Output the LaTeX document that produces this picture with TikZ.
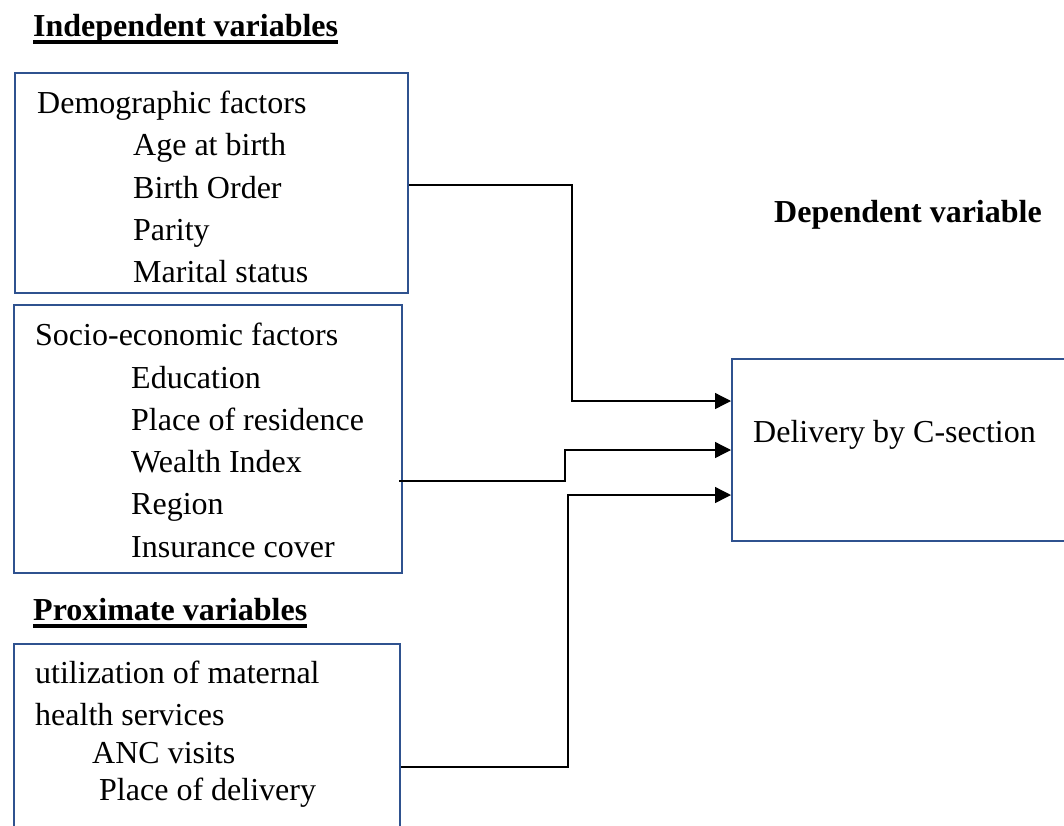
\documentclass[tikz,border=0pt]{standalone}
\usepackage{fontspec}
\setmainfont{Liberation Serif}
\usetikzlibrary{arrows.meta}
\definecolor{boxblue}{RGB}{47,82,143}
\begin{document}
\begin{tikzpicture}[x=1pt,y=-1pt,
  box/.style={draw=boxblue,line width=2pt,inner sep=0pt},
  txt/.style={anchor=base west,inner sep=0pt,font=\fontsize{32}{38}\selectfont},
  hdr/.style={anchor=base west,inner sep=0pt,font=\fontsize{32}{38}\selectfont\bfseries},
  conn/.style={draw=black,line width=1.3pt,-{Triangle[length=16pt,width=16pt]}},
  uline/.style={line width=3.2pt}]
\useasboundingbox (0,0) rectangle (1064,825);
\clip (0,0) rectangle (1064,825);

% boxes
\node[box,minimum width=393pt,minimum height=220pt] (demo) at (211.5,183) {};
\node[box,minimum width=388pt,minimum height=268pt] (socio) at (208,439) {};
\node[box,minimum width=386pt,minimum height=220pt] (prox) at (207,754) {};
\node[box,minimum width=368pt,minimum height=182pt] (dep) at (916,450) {};

% headers
\node[hdr] (ind) at (33,36) {Independent variables};
\draw[uline] ([yshift=-6pt]ind.base west) -- ([yshift=-6pt]ind.base east);
\node[hdr] (dv) at (774,222) {Dependent variable};
\node[hdr] (pv) at (33,620) {Proximate variables};
\draw[uline] ([yshift=-6pt]pv.base west) -- ([yshift=-6pt]pv.base east);

% demographic
\node[txt] (d0) at (37,113) {Demographic factors};
\node[txt] (d1) at (133,155) {Age at birth};
\node[txt] (d2) at (133,198) {Birth Order};
\node[txt] (d3) at (133,240) {Parity};
\node[txt] (d4) at (133,282) {Marital status};

% socio-economic
\node[txt] (s0) at (35,345) {Socio-economic factors};
\node[txt] (s1) at (131,388) {Education};
\node[txt] (s2) at (131,430) {Place of residence};
\node[txt] (s3) at (131,472) {Wealth Index};
\node[txt] (s4) at (131,514) {Region};
\node[txt] (s5) at (131,557) {Insurance cover};

% proximate
\node[txt] (p0) at (35,683) {utilization of maternal};
\node[txt] (p1) at (35,725) {health services};
\node[txt] (p2) at (92,763) {ANC visits};
\node[txt] (p3) at (99,800) {Place of delivery};

% dependent
\node[txt] (dtext) at (753,442) {Delivery by C-section};

% connectors
\draw[conn] (demo.east |- 0,185) -- (572,185) -- (572,401) -- (dep.west |- 0,401);
\draw[conn] ([xshift=-4pt]socio.east |- 0,481) -- (565,481) -- (565,450) -- (dep.west |- 0,450);
\draw[conn] (prox.east |- 0,767) -- (568,767) -- (568,495) -- (dep.west |- 0,495);
\end{tikzpicture}
\end{document}
